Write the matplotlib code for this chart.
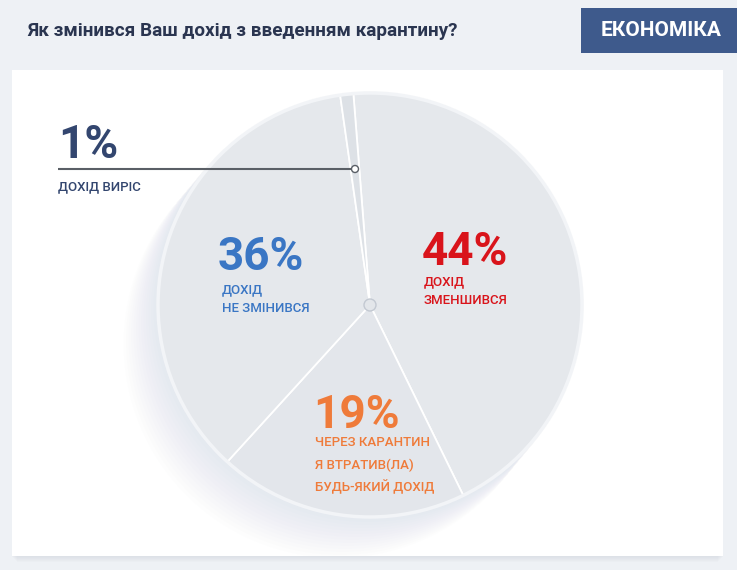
import matplotlib
matplotlib.use("Agg")
from matplotlib import pyplot as plt
from matplotlib.patches import Rectangle, Circle

plt.rcParams['font.family'] = ['Roboto', 'DejaVu Sans']

# data
values = [44, 19, 36, 1]
pct_labels = ['44%', '19%', '36%', '1%']
desc_lines = [['ДОХІД', 'ЗМЕНШИВСЯ'],
              ['ЧЕРЕЗ КАРАНТИН', 'Я ВТРАТИВ(ЛА)', 'БУДЬ-ЯКИЙ ДОХІД'],
              ['ДОХІД', 'НЕ ЗМІНИВСЯ'],
              ['ДОХІД ВИРІС']]
label_colors = ['#d9141b', '#ef7b3a', '#3a76c4', '#33466f']
title = 'Як змінився Ваш дохід з введенням карантину?'
badge = 'ЕКОНОМІКА'

W, H = 737, 570

fig = plt.figure(figsize=(W / 100, H / 100), dpi=100)
fig.patch.set_facecolor('#eef1f5')
ax = fig.add_axes([0, 0, 1, 1])

def Y(py):
    # pixel row -> data y
    return H - py

# card with soft shadow under it
for i in range(6):
    ax.add_patch(Rectangle((12 + i, Y(557 + i)), 711 - 2 * i, 487, color='#c8ced8',
                           alpha=0.08, lw=0, zorder=0))
card = Rectangle((12, Y(556)), 711, 486, color='white', lw=0, zorder=1)
ax.add_patch(card)

cx, cy, r = 370, Y(305), 212

# soft shadow of the pie
for i in range(14):
    sh = Circle((cx - 2.5 * i, cy - 3 * i), r + 2, color='#a7b0bd', alpha=0.014,
                lw=0, zorder=2)
    ax.add_patch(sh)
    sh.set_clip_path(card)

wedges, _ = ax.pie(values, center=(cx, cy), radius=r, startangle=94.5,
                   counterclock=False, colors=['#e5e8ec', '#e3e6eb', '#e5e8ec', '#dde1e6'],
                   wedgeprops=dict(edgecolor='white', linewidth=1.3))
for w in wedges:
    w.set_zorder(3)
ax.add_patch(Circle((cx, cy), r, fill=False, ec='#f2f4f7', lw=2.5, zorder=4))
ax.add_patch(Circle((cx, cy), 6, fc='#e3e6ea', ec='#c3c9d2', lw=1, zorder=5))

# percent labels and descriptions
pct_pos = [(422, 265), (313, 428), (218, 270), (58, 158)]
desc_pos = [(424, 282), (315, 443), (222, 290), (58, 187)]
for i in range(len(values)):
    px, py = pct_pos[i]
    ax.text(px, Y(py), pct_labels[i], color=label_colors[i], fontsize=33,
            fontweight='bold', ha='left', va='baseline', zorder=6)
    dx, dy = desc_pos[i]
    step = 22 if i == 1 else 19
    for j, line in enumerate(desc_lines[i]):
        ax.text(dx, Y(dy + j * step), line, color=label_colors[i], fontsize=9.5,
                fontweight='medium', ha='left', va='center', zorder=6)

# leader line for the small slice
ax.plot([58, 355], [Y(169), Y(169)], color='#5a5f66', lw=1.5, zorder=6,
        solid_capstyle='butt')
ax.add_patch(Circle((355, Y(169)), 3.5, fc='white', ec='#5a5f66', lw=1, zorder=7))

# header
ax.text(27, Y(31), title, color='#2a3550', fontsize=13.6, fontweight='bold',
        ha='left', va='center')
ax.add_patch(Rectangle((581, Y(53)), 156, 45, color='#3e5a8c', lw=0))
ax.text(661, Y(30.5), badge, color='white', fontsize=15, fontweight='bold',
        ha='center', va='center')

ax.set_xlim(0, W)
ax.set_ylim(0, H)
ax.set_aspect('auto')
ax.axis('off')

fig.savefig('out.png', dpi=100, facecolor=fig.get_facecolor())
